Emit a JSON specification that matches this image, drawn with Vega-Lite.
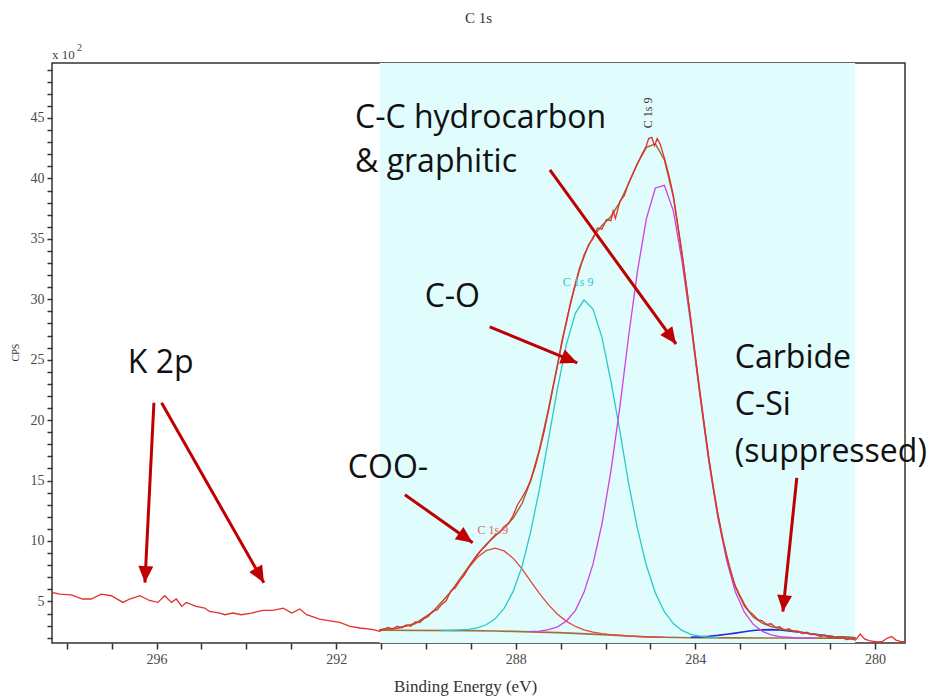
{
  "$schema": "https://vega.github.io/schema/vega-lite/v6.json",
  "width": 853,
  "height": 580,
  "autosize": {"type": "none"},
  "padding": {"left": 52, "top": 63, "right": 34, "bottom": 53},
  "background": "white",
  "config": {"view": {"stroke": "#333", "strokeWidth": 1.5}},
  "datasets": {
    "region": [{"be": 291.03, "be2": 280.44, "cps": 49.55, "cps2": 1.56}],
    "heading": [{"label": "C 1s", "be": 288.83, "cps": 49.55}],
    "raw": [
      {"be": 298.33, "cps": 5.74}, {"be": 298.16, "cps": 5.61}, {"be": 297.9, "cps": 5.55}, {"be": 297.65, "cps": 5.2},
      {"be": 297.46, "cps": 5.2}, {"be": 297.23, "cps": 5.61}, {"be": 297.01, "cps": 5.47}, {"be": 296.75, "cps": 4.92},
      {"be": 296.6, "cps": 5.2}, {"be": 296.37, "cps": 5.47}, {"be": 296.16, "cps": 5.08}, {"be": 295.97, "cps": 4.92},
      {"be": 295.82, "cps": 5.47}, {"be": 295.67, "cps": 4.92}, {"be": 295.56, "cps": 5.2}, {"be": 295.44, "cps": 4.59},
      {"be": 295.34, "cps": 4.92}, {"be": 295.12, "cps": 4.59}, {"be": 294.93, "cps": 4.45}, {"be": 294.82, "cps": 4.17},
      {"be": 294.59, "cps": 4.04}, {"be": 294.48, "cps": 3.9}, {"be": 294.3, "cps": 4.04}, {"be": 294.11, "cps": 3.9},
      {"be": 293.89, "cps": 4.04}, {"be": 293.63, "cps": 4.26}, {"be": 293.41, "cps": 4.26}, {"be": 293.18, "cps": 4.45},
      {"be": 292.99, "cps": 4.04}, {"be": 292.81, "cps": 4.37}, {"be": 292.66, "cps": 3.9}, {"be": 292.37, "cps": 3.54},
      {"be": 292.07, "cps": 3.35}, {"be": 291.92, "cps": 3.26}, {"be": 291.69, "cps": 2.93}, {"be": 291.47, "cps": 2.8},
      {"be": 291.17, "cps": 2.66}, {"be": 291.03, "cps": 2.52},
      {"be": 290.94, "cps": 2.72}, {"be": 290.84, "cps": 2.85}, {"be": 290.74, "cps": 2.7}, {"be": 290.64, "cps": 2.95},
      {"be": 290.54, "cps": 2.82}, {"be": 290.44, "cps": 3.05}, {"be": 290.34, "cps": 2.95}, {"be": 290.24, "cps": 3.3},
      {"be": 290.14, "cps": 3.25}, {"be": 290.05, "cps": 3.55}, {"be": 289.95, "cps": 3.75}, {"be": 289.85, "cps": 4.2},
      {"be": 289.75, "cps": 4.3}, {"be": 289.65, "cps": 4.75}, {"be": 289.55, "cps": 5.05}, {"be": 289.45, "cps": 5.85},
      {"be": 289.35, "cps": 6.1}, {"be": 289.25, "cps": 6.7}, {"be": 289.15, "cps": 7.15}, {"be": 289.05, "cps": 7.8},
      {"be": 288.95, "cps": 8.35}, {"be": 288.86, "cps": 8.8}, {"be": 288.76, "cps": 9.3}, {"be": 288.66, "cps": 9.65},
      {"be": 288.56, "cps": 10.1}, {"be": 288.46, "cps": 10.5}, {"be": 288.36, "cps": 10.7}, {"be": 288.26, "cps": 11.2},
      {"be": 288.16, "cps": 11.45}, {"be": 288.06, "cps": 12.1}, {"be": 287.96, "cps": 13.0}, {"be": 287.86, "cps": 13.6},
      {"be": 287.77, "cps": 14.2}, {"be": 287.67, "cps": 15.0}, {"be": 287.57, "cps": 16.1}, {"be": 287.47, "cps": 17.5},
      {"be": 287.37, "cps": 19.0}, {"be": 287.27, "cps": 20.8}, {"be": 287.17, "cps": 22.7}, {"be": 287.07, "cps": 24.5},
      {"be": 286.97, "cps": 26.6}, {"be": 286.87, "cps": 28.1}, {"be": 286.77, "cps": 29.9}, {"be": 286.67, "cps": 31.2},
      {"be": 286.58, "cps": 32.6}, {"be": 286.48, "cps": 33.5}, {"be": 286.38, "cps": 34.5}, {"be": 286.28, "cps": 35.0},
      {"be": 286.18, "cps": 35.9}, {"be": 286.08, "cps": 35.8}, {"be": 285.98, "cps": 36.6}, {"be": 285.88, "cps": 36.5},
      {"be": 285.83, "cps": 37.3}, {"be": 285.78, "cps": 36.7}, {"be": 285.68, "cps": 38.1}, {"be": 285.58, "cps": 38.6},
      {"be": 285.49, "cps": 39.6}, {"be": 285.39, "cps": 40.4}, {"be": 285.29, "cps": 41.2}, {"be": 285.19, "cps": 42.0},
      {"be": 285.09, "cps": 42.7}, {"be": 285.04, "cps": 43.3}, {"be": 284.97, "cps": 43.4}, {"be": 284.91, "cps": 42.7},
      {"be": 284.85, "cps": 43.3}, {"be": 284.79, "cps": 42.9}, {"be": 284.69, "cps": 41.7}, {"be": 284.59, "cps": 40.3},
      {"be": 284.49, "cps": 38.6}, {"be": 284.4, "cps": 36.4}, {"be": 284.3, "cps": 33.9}, {"be": 284.2, "cps": 31.2},
      {"be": 284.1, "cps": 28.3}, {"be": 284.0, "cps": 25.3}, {"be": 283.9, "cps": 22.4}, {"be": 283.8, "cps": 19.6},
      {"be": 283.7, "cps": 16.9}, {"be": 283.6, "cps": 14.4}, {"be": 283.5, "cps": 12.3}, {"be": 283.4, "cps": 10.3},
      {"be": 283.3, "cps": 8.8}, {"be": 283.21, "cps": 7.4}, {"be": 283.11, "cps": 6.3}, {"be": 283.01, "cps": 5.5},
      {"be": 282.91, "cps": 4.8}, {"be": 282.81, "cps": 4.2}, {"be": 282.71, "cps": 3.9}, {"be": 282.61, "cps": 3.5},
      {"be": 282.51, "cps": 3.4}, {"be": 282.41, "cps": 3.1}, {"be": 282.31, "cps": 3.15}, {"be": 282.21, "cps": 2.85},
      {"be": 282.12, "cps": 2.9}, {"be": 282.02, "cps": 2.6}, {"be": 281.92, "cps": 2.75}, {"be": 281.82, "cps": 2.5},
      {"be": 281.72, "cps": 2.55}, {"be": 281.62, "cps": 2.35}, {"be": 281.52, "cps": 2.45}, {"be": 281.42, "cps": 2.25},
      {"be": 281.32, "cps": 2.3}, {"be": 281.22, "cps": 2.1}, {"be": 281.12, "cps": 2.2}, {"be": 281.02, "cps": 2.0},
      {"be": 280.93, "cps": 2.05}, {"be": 280.83, "cps": 1.95}, {"be": 280.73, "cps": 2.0}, {"be": 280.63, "cps": 1.85},
      {"be": 280.53, "cps": 1.9}, {"be": 280.43, "cps": 1.8}, {"be": 280.33, "cps": 2.3}, {"be": 280.23, "cps": 1.9},
      {"be": 280.13, "cps": 1.75}, {"be": 280.03, "cps": 1.7}, {"be": 279.93, "cps": 1.65}, {"be": 279.83, "cps": 1.7},
      {"be": 279.73, "cps": 1.95}, {"be": 279.63, "cps": 2.1}, {"be": 279.53, "cps": 1.8}, {"be": 279.43, "cps": 1.7},
      {"be": 279.33, "cps": 1.65}
    ],
    "fit": [
      {"curve": "bg", "be": 291.04, "cps": 2.62}, {"curve": "bg", "be": 289.05, "cps": 2.58}, {"curve": "bg", "be": 288.46, "cps": 2.55},
      {"curve": "bg", "be": 288.06, "cps": 2.52}, {"curve": "bg", "be": 287.67, "cps": 2.48}, {"curve": "bg", "be": 287.07, "cps": 2.42},
      {"curve": "bg", "be": 286.67, "cps": 2.36}, {"curve": "bg", "be": 286.08, "cps": 2.25}, {"curve": "bg", "be": 285.49, "cps": 2.14},
      {"curve": "bg", "be": 285.09, "cps": 2.07}, {"curve": "bg", "be": 284.69, "cps": 2.03}, {"curve": "bg", "be": 284.1, "cps": 2.0},
      {"curve": "bg", "be": 283.11, "cps": 1.98}, {"curve": "bg", "be": 282.12, "cps": 1.97}, {"curve": "bg", "be": 281.12, "cps": 1.96},
      {"curve": "bg", "be": 280.43, "cps": 1.96},

      {"curve": "coo", "be": 291.04, "cps": 2.66}, {"curve": "coo", "be": 290.64, "cps": 2.78}, {"curve": "coo", "be": 290.24, "cps": 3.17},
      {"curve": "coo", "be": 289.85, "cps": 4.12}, {"curve": "coo", "be": 289.45, "cps": 5.77}, {"curve": "coo", "be": 289.05, "cps": 7.77},
      {"curve": "coo", "be": 288.86, "cps": 8.63}, {"curve": "coo", "be": 288.66, "cps": 9.2}, {"curve": "coo", "be": 288.46, "cps": 9.4},
      {"curve": "coo", "be": 288.26, "cps": 9.18}, {"curve": "coo", "be": 288.06, "cps": 8.58}, {"curve": "coo", "be": 287.86, "cps": 7.69},
      {"curve": "coo", "be": 287.67, "cps": 6.67}, {"curve": "coo", "be": 287.47, "cps": 5.64}, {"curve": "coo", "be": 287.27, "cps": 4.71},
      {"curve": "coo", "be": 287.07, "cps": 3.94}, {"curve": "coo", "be": 286.87, "cps": 3.35}, {"curve": "coo", "be": 286.67, "cps": 2.93},
      {"curve": "coo", "be": 286.48, "cps": 2.65}, {"curve": "coo", "be": 286.28, "cps": 2.46}, {"curve": "coo", "be": 286.08, "cps": 2.33},
      {"curve": "coo", "be": 285.88, "cps": 2.25}, {"curve": "coo", "be": 285.68, "cps": 2.2}, {"curve": "coo", "be": 285.49, "cps": 2.14},
      {"curve": "coo", "be": 285.09, "cps": 2.07}, {"curve": "coo", "be": 284.69, "cps": 2.03},

      {"curve": "co", "be": 289.65, "cps": 2.6}, {"curve": "co", "be": 289.45, "cps": 2.61}, {"curve": "co", "be": 289.05, "cps": 2.69},
      {"curve": "co", "be": 288.86, "cps": 2.81}, {"curve": "co", "be": 288.66, "cps": 3.07}, {"curve": "co", "be": 288.46, "cps": 3.56},
      {"curve": "co", "be": 288.26, "cps": 4.43}, {"curve": "co", "be": 288.06, "cps": 5.81}, {"curve": "co", "be": 287.86, "cps": 7.89},
      {"curve": "co", "be": 287.67, "cps": 10.74}, {"curve": "co", "be": 287.47, "cps": 14.34}, {"curve": "co", "be": 287.27, "cps": 18.44},
      {"curve": "co", "be": 287.07, "cps": 22.62}, {"curve": "co", "be": 286.87, "cps": 26.29}, {"curve": "co", "be": 286.67, "cps": 28.86},
      {"curve": "co", "be": 286.48, "cps": 29.93}, {"curve": "co", "be": 286.28, "cps": 29.19}, {"curve": "co", "be": 286.08, "cps": 26.85},
      {"curve": "co", "be": 285.88, "cps": 23.21}, {"curve": "co", "be": 285.68, "cps": 19.08}, {"curve": "co", "be": 285.49, "cps": 14.84},
      {"curve": "co", "be": 285.29, "cps": 11.04}, {"curve": "co", "be": 285.09, "cps": 7.97}, {"curve": "co", "be": 284.89, "cps": 5.7},
      {"curve": "co", "be": 284.69, "cps": 4.15}, {"curve": "co", "be": 284.49, "cps": 3.17}, {"curve": "co", "be": 284.3, "cps": 2.6},
      {"curve": "co", "be": 284.1, "cps": 2.28}, {"curve": "co", "be": 283.9, "cps": 2.12}, {"curve": "co", "be": 283.7, "cps": 2.04},
      {"curve": "co", "be": 283.5, "cps": 2.01},

      {"curve": "cc", "be": 287.67, "cps": 2.52}, {"curve": "cc", "be": 287.47, "cps": 2.55}, {"curve": "cc", "be": 287.27, "cps": 2.66},
      {"curve": "cc", "be": 287.07, "cps": 2.9}, {"curve": "cc", "be": 286.87, "cps": 3.38}, {"curve": "cc", "be": 286.67, "cps": 4.26},
      {"curve": "cc", "be": 286.48, "cps": 5.75}, {"curve": "cc", "be": 286.28, "cps": 8.08}, {"curve": "cc", "be": 286.08, "cps": 11.42},
      {"curve": "cc", "be": 285.88, "cps": 15.81}, {"curve": "cc", "be": 285.68, "cps": 21.12}, {"curve": "cc", "be": 285.49, "cps": 26.84},
      {"curve": "cc", "be": 285.29, "cps": 32.31}, {"curve": "cc", "be": 285.09, "cps": 36.67}, {"curve": "cc", "be": 284.89, "cps": 39.21},
      {"curve": "cc", "be": 284.69, "cps": 39.43}, {"curve": "cc", "be": 284.49, "cps": 37.32}, {"curve": "cc", "be": 284.3, "cps": 33.21},
      {"curve": "cc", "be": 284.1, "cps": 27.9}, {"curve": "cc", "be": 283.9, "cps": 22.09}, {"curve": "cc", "be": 283.7, "cps": 16.59},
      {"curve": "cc", "be": 283.5, "cps": 11.96}, {"curve": "cc", "be": 283.3, "cps": 8.36}, {"curve": "cc", "be": 283.11, "cps": 5.8},
      {"curve": "cc", "be": 282.91, "cps": 4.13}, {"curve": "cc", "be": 282.71, "cps": 3.1}, {"curve": "cc", "be": 282.51, "cps": 2.53},
      {"curve": "cc", "be": 282.31, "cps": 2.23}, {"curve": "cc", "be": 282.12, "cps": 2.08}, {"curve": "cc", "be": 281.72, "cps": 1.98},
      {"curve": "cc", "be": 281.32, "cps": 1.96},

      {"curve": "csi", "be": 284.1, "cps": 2.04}, {"curve": "csi", "be": 283.9, "cps": 2.07}, {"curve": "csi", "be": 283.7, "cps": 2.12},
      {"curve": "csi", "be": 283.5, "cps": 2.19}, {"curve": "csi", "be": 283.3, "cps": 2.28}, {"curve": "csi", "be": 283.11, "cps": 2.38},
      {"curve": "csi", "be": 282.91, "cps": 2.49}, {"curve": "csi", "be": 282.71, "cps": 2.59}, {"curve": "csi", "be": 282.51, "cps": 2.65},
      {"curve": "csi", "be": 282.31, "cps": 2.67}, {"curve": "csi", "be": 282.12, "cps": 2.64}, {"curve": "csi", "be": 281.72, "cps": 2.48},
      {"curve": "csi", "be": 281.32, "cps": 2.27}, {"curve": "csi", "be": 280.93, "cps": 2.1}, {"curve": "csi", "be": 280.43, "cps": 1.99},

      {"curve": "env", "be": 291.04, "cps": 2.66}, {"curve": "env", "be": 290.64, "cps": 2.78}, {"curve": "env", "be": 290.24, "cps": 3.17},
      {"curve": "env", "be": 289.85, "cps": 4.12}, {"curve": "env", "be": 289.45, "cps": 5.79}, {"curve": "env", "be": 289.05, "cps": 7.88},
      {"curve": "env", "be": 288.86, "cps": 8.87}, {"curve": "env", "be": 288.66, "cps": 9.71}, {"curve": "env", "be": 288.46, "cps": 10.41},
      {"curve": "env", "be": 288.26, "cps": 11.08}, {"curve": "env", "be": 288.06, "cps": 11.88}, {"curve": "env", "be": 287.86, "cps": 13.1},
      {"curve": "env", "be": 287.67, "cps": 14.97}, {"curve": "env", "be": 287.47, "cps": 17.61}, {"curve": "env", "be": 287.27, "cps": 20.93},
      {"curve": "env", "be": 287.07, "cps": 24.62}, {"curve": "env", "be": 286.87, "cps": 28.24}, {"curve": "env", "be": 286.67, "cps": 31.33},
      {"curve": "env", "be": 286.48, "cps": 33.67}, {"curve": "env", "be": 286.28, "cps": 35.15}, {"curve": "env", "be": 286.08, "cps": 36.1},
      {"curve": "env", "be": 285.88, "cps": 36.85}, {"curve": "env", "be": 285.68, "cps": 38.04}, {"curve": "env", "be": 285.49, "cps": 39.54},
      {"curve": "env", "be": 285.29, "cps": 41.24}, {"curve": "env", "be": 285.09, "cps": 42.57}, {"curve": "env", "be": 284.89, "cps": 42.86},
      {"curve": "env", "be": 284.69, "cps": 41.55}, {"curve": "env", "be": 284.49, "cps": 38.47}, {"curve": "env", "be": 284.3, "cps": 33.8},
      {"curve": "env", "be": 284.1, "cps": 28.22}, {"curve": "env", "be": 283.9, "cps": 22.3}, {"curve": "env", "be": 283.7, "cps": 16.77},
      {"curve": "env", "be": 283.5, "cps": 12.18}, {"curve": "env", "be": 283.3, "cps": 8.66}, {"curve": "env", "be": 283.11, "cps": 6.2},
      {"curve": "env", "be": 282.91, "cps": 4.64}, {"curve": "env", "be": 282.71, "cps": 3.71}, {"curve": "env", "be": 282.51, "cps": 3.2},
      {"curve": "env", "be": 282.31, "cps": 2.93}, {"curve": "env", "be": 282.12, "cps": 2.75}, {"curve": "env", "be": 281.72, "cps": 2.49},
      {"curve": "env", "be": 281.32, "cps": 2.26}, {"curve": "env", "be": 280.93, "cps": 2.09}, {"curve": "env", "be": 280.43, "cps": 1.99}
    ],
    "arrows": [
      {"id": "k1", "be": 296.06, "cps": 21.44, "be2": 296.26, "cps2": 6.55},
      {"id": "k2", "be": 295.89, "cps": 21.44, "be2": 293.61, "cps2": 6.55},
      {"id": "coo", "be": 290.47, "cps": 13.83, "be2": 288.96, "cps2": 9.86},
      {"id": "co", "be": 288.58, "cps": 27.72, "be2": 286.63, "cps2": 24.74},
      {"id": "cc", "be": 287.24, "cps": 40.7, "be2": 284.43, "cps2": 26.3},
      {"id": "csi", "be": 281.74, "cps": 15.23, "be2": 282.05, "cps2": 4.15}
    ],
    "notes": [
      {"label": "C-C hydrocarbon", "be": 291.58, "cps": 45.0},
      {"label": "& graphitic", "be": 291.58, "cps": 41.36},
      {"label": "C-O", "be": 290.03, "cps": 30.2},
      {"label": "K 2p", "be": 296.64, "cps": 24.7},
      {"label": "Carbide", "be": 283.12, "cps": 25.15},
      {"label": "C-Si", "be": 283.12, "cps": 21.27},
      {"label": "(suppressed)", "be": 283.12, "cps": 17.4},
      {"label": "COO-", "be": 291.74, "cps": 16.06}
    ],
    "peaklabels": [
      {"kind": "coo", "label": "C 1s 9", "be": 288.51, "cps": 10.93},
      {"kind": "co", "label": "C 1s 9", "be": 286.61, "cps": 31.44},
      {"kind": "cc", "label": "C 1s 9", "be": 285.06, "cps": 45.43}
    ],
    "corner": [{"be": 298.33, "cps": 49.55}]
  },
  "encoding": {
    "x": {
      "field": "be", "type": "quantitative",
      "scale": {"domain": [279.33, 298.33], "reverse": true, "nice": false, "zero": false},
      "axis": {
        "values": [280, 281, 282, 283, 284, 285, 286, 287, 288, 289, 290, 291, 292, 293, 294, 295, 296, 297, 298],
        "labelExpr": "datum.value % 4 === 0 ? datum.value : ''",
        "labelOverlap": false, "grid": false, "domain": false,
        "tickSize": 6, "tickColor": "#333", "tickWidth": 1.5,
        "labelFont": "Liberation Serif", "labelFontSize": 14, "labelColor": "#4a4a4a", "labelPadding": 3,
        "title": "Binding Energy (eV)", "titleFont": "Liberation Serif", "titleFontSize": 17, "titleFontWeight": "normal",
        "titleColor": "#333", "titleX": 413, "titleY": 43, "titleAlign": "center", "titleBaseline": "middle"
      }
    },
    "y": {
      "field": "cps", "type": "quantitative",
      "scale": {"domain": [1.56, 49.55], "nice": false, "zero": false},
      "axis": {
        "values": [2, 3, 4, 5, 6, 7, 8, 9, 10, 11, 12, 13, 14, 15, 16, 17, 18, 19, 20, 21, 22, 23, 24, 25, 26, 27, 28, 29, 30, 31, 32, 33, 34, 35, 36, 37, 38, 39, 40, 41, 42, 43, 44, 45, 46, 47, 48, 49],
        "labelExpr": "datum.value % 5 === 0 ? datum.value : ''",
        "labelOverlap": false, "grid": false, "domain": false,
        "tickSize": 5, "tickColor": "#333", "tickWidth": 1.5,
        "labelFont": "Liberation Serif", "labelFontSize": 14, "labelColor": "#4a4a4a", "labelPadding": 3,
        "title": "CPS", "titleFont": "Liberation Serif", "titleFontSize": 10, "titleFontWeight": "normal",
        "titleColor": "#333", "titleX": -37, "titleY": 289, "titleAngle": -90, "titleAlign": "center", "titleBaseline": "middle"
      }
    }
  },
  "layer": [
    {"data": {"name": "region"}, "mark": {"type": "rect", "color": "#e0fcfc"},
     "encoding": {"x2": {"field": "be2"}, "y2": {"field": "cps2"}}},
    {"data": {"name": "fit"}, "transform": [{"filter": "datum.curve === 'bg'"}],
     "mark": {"type": "line", "color": "#a0703c", "strokeWidth": 1.6}, "encoding": {}},
    {"data": {"name": "fit"}, "transform": [{"filter": "datum.curve === 'csi'"}],
     "mark": {"type": "line", "color": "#2a2ad0", "strokeWidth": 1.6}, "encoding": {}},
    {"data": {"name": "fit"}, "transform": [{"filter": "datum.curve === 'coo'"}],
     "mark": {"type": "line", "color": "#e5483f", "strokeWidth": 1.3}, "encoding": {}},
    {"data": {"name": "fit"}, "transform": [{"filter": "datum.curve === 'co'"}],
     "mark": {"type": "line", "color": "#29c8cb", "strokeWidth": 1.3}, "encoding": {}},
    {"data": {"name": "fit"}, "transform": [{"filter": "datum.curve === 'cc'"}],
     "mark": {"type": "line", "color": "#d33ee2", "strokeWidth": 1.3}, "encoding": {}},
    {"data": {"name": "fit"}, "transform": [{"filter": "datum.curve === 'env'"}],
     "mark": {"type": "line", "color": "#9c6a3a", "strokeWidth": 1.5}, "encoding": {}},
    {"data": {"name": "raw"}, "mark": {"type": "line", "color": "#e3302b", "strokeWidth": 1.3}, "encoding": {}},
    {"data": {"name": "arrows"}, "mark": {"type": "rule", "color": "#c00000", "strokeWidth": 3},
     "encoding": {"x2": {"field": "be2"}, "y2": {"field": "cps2"}}},
    {"data": {"name": "arrows"}, "transform": [{"filter": "datum.id === 'k1'"}],
     "mark": {"type": "point", "shape": "M0,0L-0.45,1L0.45,1Z", "size": 1100, "filled": true, "color": "#c00000", "opacity": 1, "angle": 183},
     "encoding": {"x": {"field": "be2", "type": "quantitative"}, "y": {"field": "cps2", "type": "quantitative"}}},
    {"data": {"name": "arrows"}, "transform": [{"filter": "datum.id === 'k2'"}],
     "mark": {"type": "point", "shape": "M0,0L-0.45,1L0.45,1Z", "size": 1100, "filled": true, "color": "#c00000", "opacity": 1, "angle": 150.5},
     "encoding": {"x": {"field": "be2", "type": "quantitative"}, "y": {"field": "cps2", "type": "quantitative"}}},
    {"data": {"name": "arrows"}, "transform": [{"filter": "datum.id === 'coo'"}],
     "mark": {"type": "point", "shape": "M0,0L-0.45,1L0.45,1Z", "size": 1100, "filled": true, "color": "#c00000", "opacity": 1, "angle": 125},
     "encoding": {"x": {"field": "be2", "type": "quantitative"}, "y": {"field": "cps2", "type": "quantitative"}}},
    {"data": {"name": "arrows"}, "transform": [{"filter": "datum.id === 'co'"}],
     "mark": {"type": "point", "shape": "M0,0L-0.45,1L0.45,1Z", "size": 1100, "filled": true, "color": "#c00000", "opacity": 1, "angle": 112.5},
     "encoding": {"x": {"field": "be2", "type": "quantitative"}, "y": {"field": "cps2", "type": "quantitative"}}},
    {"data": {"name": "arrows"}, "transform": [{"filter": "datum.id === 'cc'"}],
     "mark": {"type": "point", "shape": "M0,0L-0.45,1L0.45,1Z", "size": 1100, "filled": true, "color": "#c00000", "opacity": 1, "angle": 144},
     "encoding": {"x": {"field": "be2", "type": "quantitative"}, "y": {"field": "cps2", "type": "quantitative"}}},
    {"data": {"name": "arrows"}, "transform": [{"filter": "datum.id === 'csi'"}],
     "mark": {"type": "point", "shape": "M0,0L-0.45,1L0.45,1Z", "size": 1100, "filled": true, "color": "#c00000", "opacity": 1, "angle": 186},
     "encoding": {"x": {"field": "be2", "type": "quantitative"}, "y": {"field": "cps2", "type": "quantitative"}}},
    {"data": {"name": "notes"}, "mark": {"type": "text", "font": "Open Sans", "fontSize": 32, "color": "#111", "align": "left", "baseline": "middle"},
     "encoding": {"text": {"field": "label"}}},
    {"data": {"name": "peaklabels"}, "transform": [{"filter": "datum.kind === 'coo'"}],
     "mark": {"type": "text", "font": "Liberation Serif", "fontSize": 12, "color": "#e8605a", "align": "center", "baseline": "middle"},
     "encoding": {"text": {"field": "label"}}},
    {"data": {"name": "peaklabels"}, "transform": [{"filter": "datum.kind === 'co'"}],
     "mark": {"type": "text", "font": "Liberation Serif", "fontSize": 12, "color": "#2fc4ca", "align": "center", "baseline": "middle"},
     "encoding": {"text": {"field": "label"}}},
    {"data": {"name": "peaklabels"}, "transform": [{"filter": "datum.kind === 'cc'"}],
     "mark": {"type": "text", "font": "Liberation Serif", "fontSize": 12, "color": "#333", "align": "center", "baseline": "middle", "angle": 270},
     "encoding": {"text": {"field": "label"}}},
    {"data": {"name": "heading"}, "mark": {"type": "text", "font": "Liberation Serif", "fontSize": 15, "color": "#333", "align": "center", "baseline": "middle", "dy": -45},
     "encoding": {"text": {"field": "label"}}},
    {"data": {"name": "corner"}, "mark": {"type": "text", "text": "x 10", "font": "Liberation Serif", "fontSize": 13, "color": "#444", "align": "left", "baseline": "alphabetic", "dy": -4}},
    {"data": {"name": "corner"}, "mark": {"type": "text", "text": "2", "font": "Liberation Serif", "fontSize": 10, "color": "#444", "align": "left", "baseline": "alphabetic", "dx": 25, "dy": -12}}
  ]
}
